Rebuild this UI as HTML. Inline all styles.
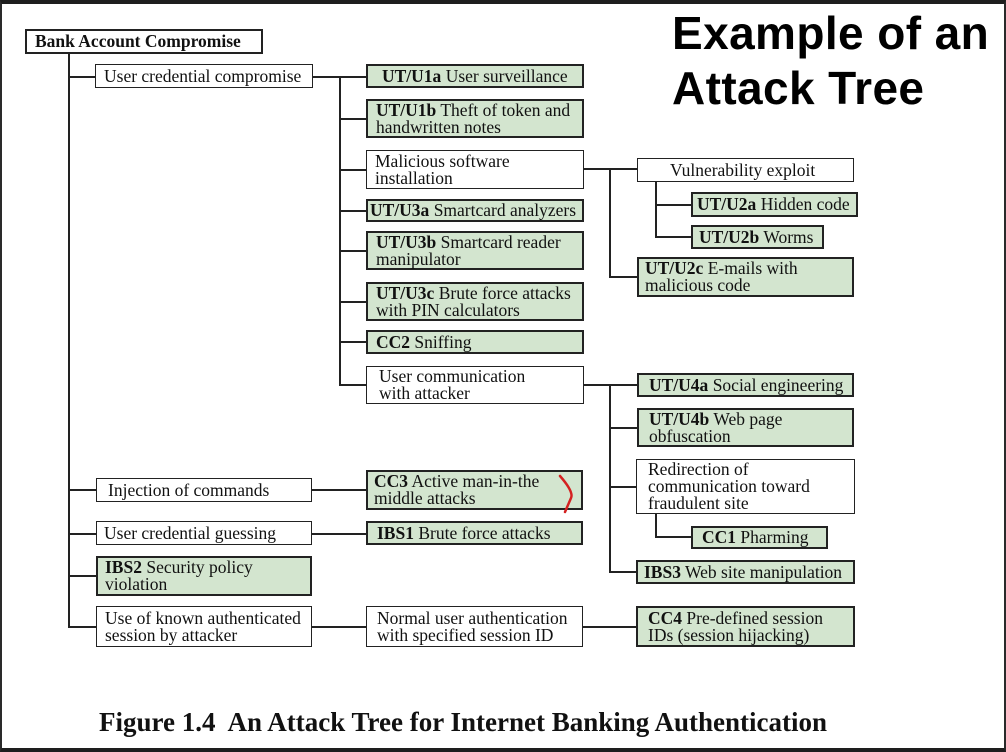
<!DOCTYPE html>
<html><head><meta charset="utf-8"><style>
body{margin:0;width:1006px;height:752px;background:#fff;position:relative;overflow:hidden;font-family:"Liberation Serif",serif;}
.frame{position:absolute;left:0;top:0;width:1006px;height:752px;box-sizing:border-box;border-top:4px solid #1e1e1e;border-bottom:4px solid #1e1e1e;border-left:2px solid #2a2a2a;border-right:2px solid #2a2a2a;}
.b{position:absolute;box-sizing:border-box;border:1.5px solid #222;background:#fff;font-size:17.5px;line-height:17px;color:#111;padding:0 8px;display:flex;align-items:center;white-space:nowrap;}
.g{background:#d3e5cf;border:2px solid #222;}
.b b{font-weight:bold;}
.h{position:absolute;height:2px;background:#222;}
.v{position:absolute;width:2px;background:#222;}
.t{position:absolute;font-family:"Liberation Sans",sans-serif;font-weight:bold;font-size:46px;letter-spacing:0.4px;color:#000;white-space:nowrap;line-height:56px;}
.cap{position:absolute;left:99px;top:707px;font-weight:bold;font-size:27px;white-space:nowrap;color:#111;}
</style></head><body>
<div class="frame"></div>
<div class="t" style="left:672px;top:5px">Example of an</div>
<div class="t" style="left:672px;top:60px">Attack Tree</div>

<!-- lines -->
<div class="v" style="left:68px;top:53px;height:575px"></div>
<div class="h" style="left:68px;top:76px;width:27px"></div>
<div class="h" style="left:68px;top:489px;width:28px"></div>
<div class="h" style="left:68px;top:533px;width:28px"></div>
<div class="h" style="left:68px;top:575px;width:28px"></div>
<div class="h" style="left:68px;top:626px;width:28px"></div>

<div class="h" style="left:312px;top:76px;width:55px"></div>
<div class="v" style="left:339px;top:76px;height:310px"></div>
<div class="h" style="left:339px;top:118px;width:28px"></div>
<div class="h" style="left:339px;top:169px;width:28px"></div>
<div class="h" style="left:339px;top:210px;width:28px"></div>
<div class="h" style="left:339px;top:250px;width:28px"></div>
<div class="h" style="left:339px;top:301px;width:28px"></div>
<div class="h" style="left:339px;top:341px;width:28px"></div>
<div class="h" style="left:339px;top:384px;width:28px"></div>

<div class="h" style="left:583px;top:168px;width:54px"></div>
<div class="v" style="left:609px;top:168px;height:110px"></div>
<div class="h" style="left:609px;top:276px;width:28px"></div>
<div class="v" style="left:655px;top:182px;height:55px"></div>
<div class="h" style="left:655px;top:204px;width:36px"></div>
<div class="h" style="left:655px;top:236px;width:36px"></div>

<div class="h" style="left:583px;top:384px;width:54px"></div>
<div class="v" style="left:609px;top:384px;height:189px"></div>
<div class="h" style="left:609px;top:427px;width:28px"></div>
<div class="h" style="left:609px;top:486px;width:28px"></div>
<div class="h" style="left:609px;top:571px;width:28px"></div>
<div class="v" style="left:655px;top:513px;height:25px"></div>
<div class="h" style="left:655px;top:536px;width:36px"></div>

<div class="h" style="left:311px;top:489px;width:56px"></div>
<div class="h" style="left:311px;top:533px;width:56px"></div>
<div class="h" style="left:311px;top:626px;width:56px"></div>
<div class="h" style="left:582px;top:626px;width:55px"></div>

<!-- boxes -->
<div class="b" style="left:25px;top:29px;width:238px;height:25px;font-size:17.5px;border-width:2px"><b>Bank Account Compromise</b></div>
<div class="b" style="left:95px;top:64px;width:218px;height:24px">User credential compromise</div>

<div class="b g" style="left:366px;top:64px;width:218px;height:24px;padding-left:14px"><span><b>UT/U1a</b> User surveillance</span></div>
<div class="b g" style="left:366px;top:99px;width:218px;height:39px"><span><b>UT/U1b</b> Theft of token and<br>handwritten notes</span></div>
<div class="b" style="left:366px;top:150px;width:218px;height:39px"><span>Malicious software<br>installation</span></div>
<div class="b g" style="left:366px;top:199px;width:218px;height:23px;padding-left:2px"><span><b>UT/U3a</b> Smartcard analyzers</span></div>
<div class="b g" style="left:366px;top:231px;width:218px;height:39px"><span><b>UT/U3b</b> Smartcard reader<br>manipulator</span></div>
<div class="b g" style="left:366px;top:282px;width:218px;height:39px"><span><b>UT/U3c</b> Brute force attacks<br>with PIN calculators</span></div>
<div class="b g" style="left:366px;top:330px;width:218px;height:24px"><span><b>CC2</b> Sniffing</span></div>
<div class="b" style="left:366px;top:366px;width:218px;height:38px;padding-left:12px"><span>User communication<br>with attacker</span></div>

<div class="b" style="left:637px;top:158px;width:217px;height:24px;padding-left:32px">Vulnerability exploit</div>
<div class="b g" style="left:691px;top:192px;width:167px;height:25px;padding-left:4px"><span><b>UT/U2a</b> Hidden code</span></div>
<div class="b g" style="left:691px;top:225px;width:133px;height:24px;padding-left:6px"><span><b>UT/U2b</b> Worms</span></div>
<div class="b g" style="left:637px;top:257px;width:217px;height:40px;padding-left:6px"><span><b>UT/U2c</b> E-mails with<br>malicious code</span></div>

<div class="b g" style="left:637px;top:373px;width:217px;height:24px;padding-left:10px"><span><b>UT/U4a</b> Social engineering</span></div>
<div class="b g" style="left:637px;top:408px;width:217px;height:39px;padding-left:10px"><span><b>UT/U4b</b> Web page<br>obfuscation</span></div>
<div class="b" style="left:636px;top:459px;width:219px;height:55px;padding-left:11px"><span>Redirection of<br>communication toward<br>fraudulent site</span></div>
<div class="b g" style="left:691px;top:526px;width:137px;height:23px;padding-left:9px"><span><b>CC1</b> Pharming</span></div>
<div class="b g" style="left:636px;top:560px;width:219px;height:24px;padding-left:6px"><span><b>IBS3</b> Web site manipulation</span></div>

<div class="b" style="left:96px;top:478px;width:216px;height:24px;padding-left:11px">Injection of commands</div>
<div class="b g" style="left:366px;top:470px;width:217px;height:40px;padding-left:6px"><span><b>CC3</b> Active man-in-the<br>middle attacks</span></div>
<div class="b" style="left:96px;top:521px;width:216px;height:24px;padding-left:7px">User credential guessing</div>
<div class="b g" style="left:366px;top:521px;width:217px;height:24px;padding-left:9px"><span><b>IBS1</b> Brute force attacks</span></div>
<div class="b g" style="left:96px;top:556px;width:216px;height:40px;padding-left:7px"><span><b>IBS2</b> Security policy<br>violation</span></div>
<div class="b" style="left:96px;top:606px;width:216px;height:41px;padding-left:8px"><span>Use of known authenticated<br>session by attacker</span></div>
<div class="b" style="left:366px;top:606px;width:217px;height:41px;padding-left:10px"><span>Normal user authentication<br>with specified session ID</span></div>
<div class="b g" style="left:636px;top:606px;width:219px;height:41px;padding-left:10px"><span><b>CC4</b> Pre-defined session<br>IDs (session hijacking)</span></div>

<svg style="position:absolute;left:0;top:0" width="1006" height="752"><path d="M560 476 Q574 492 571 498 Q568 505 565 512" fill="none" stroke="#d42020" stroke-width="2.5" stroke-linecap="round"/></svg>

<div class="cap">Figure 1.4&nbsp; An Attack Tree for Internet Banking Authentication</div>
</body></html>
